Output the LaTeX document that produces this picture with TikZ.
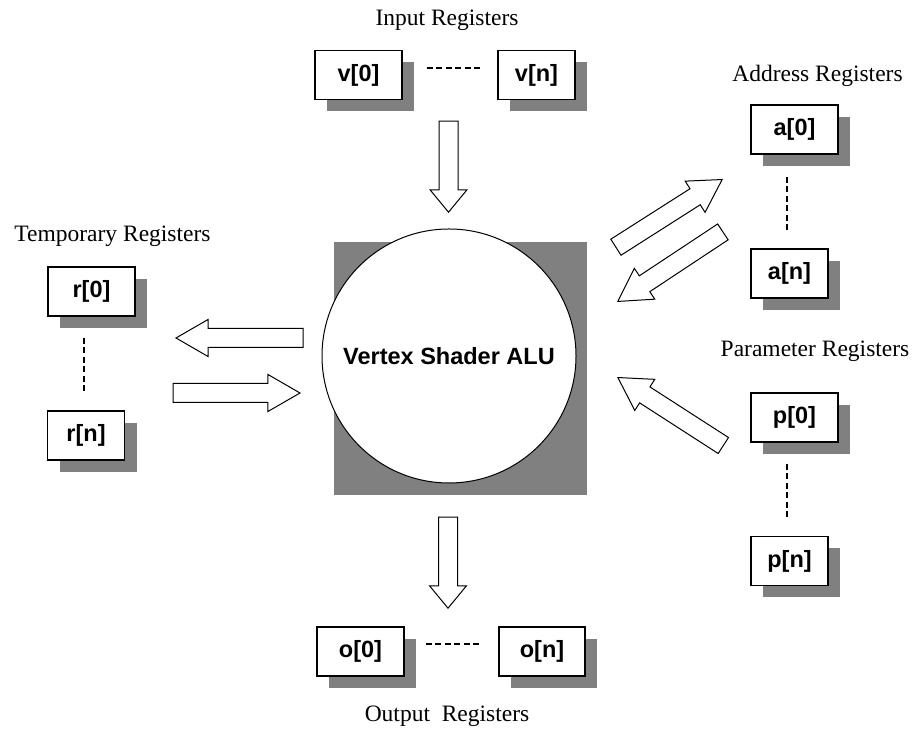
\documentclass[tikz,border=0pt]{standalone}
\usepackage{fontspec}
\setmainfont{Liberation Serif}
\setsansfont{Liberation Sans}
\usetikzlibrary{shapes.arrows,shadows,backgrounds}
\tikzset{
  regbox/.style={draw,fill=white,line width=1.2pt,minimum width=87pt,minimum height=49pt,inner sep=0pt,
    font=\sffamily\bfseries\fontsize{23.5}{28}\selectfont,
    drop shadow={shadow xshift=12pt,shadow yshift=-12pt,fill=black!50,opacity=1}},
  blockarrow/.style={single arrow,draw,fill=white,line width=1pt,inner xsep=0pt,inner ysep=9pt,
    single arrow head extend=9pt,single arrow tip angle=60,anchor=tip},
  regdots/.style={line width=2pt,dash pattern=on 6pt off 3.5pt},
  grouplabel/.style={anchor=base,font=\fontsize{23.5}{28}\selectfont}
}
\begin{document}
\begin{tikzpicture}[x=1pt,y=1pt]
\useasboundingbox (0,0) rectangle (913,735);
\node[circle,draw,fill=white,line width=1pt,minimum size=254pt,inner sep=0pt,
  font=\sffamily\bfseries\fontsize{23.5}{28}\selectfont] (alu) at (449,379) {Vertex Shader ALU};
\begin{scope}[on background layer]
\fill[black!50] ([xshift=-115pt,yshift=-12pt]alu.south) rectangle ([xshift=138pt,yshift=-14pt]alu.north);
\end{scope}
\node[regbox] (v0) at (358.5,660) {v[0]};
\node[regbox,minimum width=77pt] (vN) at (536.5,660) {v[n]};
\node[regbox] (o0) at (360.5,83.5) {o[0]};
\node[regbox,minimum width=86pt] (oN) at (542,83.5) {o[n]};
\node[regbox] (a0) at (794.5,605.5) {a[0]};
\node[regbox,minimum width=77pt] (aN) at (789.5,461.5) {a[n]};
\node[regbox] (p0) at (794.5,317.5) {p[0]};
\node[regbox,minimum width=77pt] (pN) at (789.5,174) {p[n]};
\node[regbox] (r0) at (91.5,443.5) {r[0]};
\node[regbox,minimum width=77pt] (rN) at (86,299.5) {r[n]};
\draw[regdots] ([xshift=24pt,yshift=7pt]v0.east) -- ([xshift=-16pt,yshift=7pt]vN.west);
\draw[regdots] ([xshift=21pt,yshift=7.5pt]o0.east) -- ([xshift=-17pt,yshift=7.5pt]oN.west);
\draw[regdots] ([xshift=-7.5pt,yshift=-22pt]a0.south) -- ([xshift=-2.5pt,yshift=17pt]aN.north);
\draw[regdots] ([xshift=-7.5pt,yshift=-21pt]r0.south) -- ([xshift=-2pt,yshift=18pt]rN.north);
\draw[regdots] ([xshift=-7.5pt,yshift=-21pt]p0.south) -- ([xshift=-2.5pt,yshift=16.5pt]pN.north);
\node[blockarrow,rotate=-90,minimum height=91pt,single arrow tip angle=79] (inarrow) at (448.5,522) {};
\node[blockarrow,rotate=-90,minimum height=91pt,single arrow tip angle=79] (outarrow) at (448,126) {};
\node[blockarrow,rotate=180,minimum height=127pt] (tmpout) at (175,397) {};
\node[blockarrow,minimum height=127pt] (tmpin) at (301,342) {};
\node[blockarrow,rotate=32.5,minimum height=126pt] (addrout) at (723,556) {};
\node[blockarrow,rotate=213.5,minimum height=126pt] (addrin) at (617,433) {};
\node[blockarrow,rotate=147.2,minimum height=125.5pt] (parin) at (617,358) {};
\node[grouplabel] (inlabel) at (447,709.5) {Input Registers};
\node[grouplabel] (addrlabel) at (817.5,653) {Address Registers};
\node[grouplabel] (tmplabel) at (112.5,493) {Temporary Registers};
\node[grouplabel] (parlabel) at (815,378) {Parameter Registers};
\node[grouplabel] (outlabel) at (447,13) {Output~~Registers};
\end{tikzpicture}
\end{document}
